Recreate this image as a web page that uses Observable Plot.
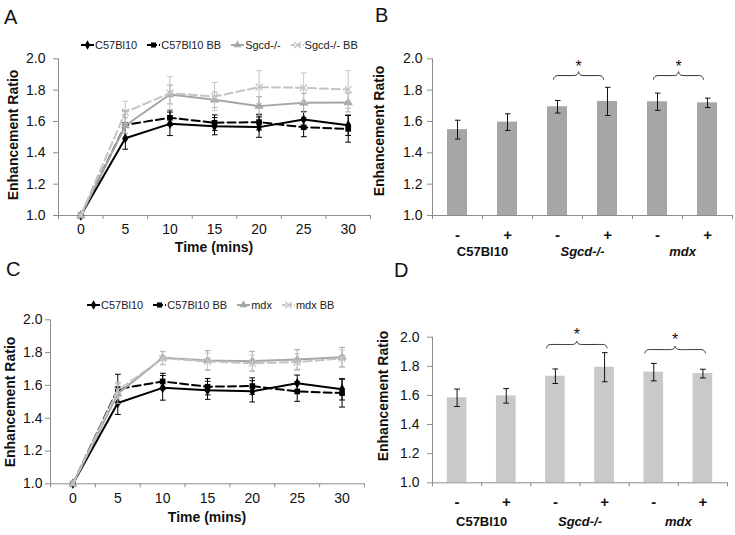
<!DOCTYPE html>
<html><head><meta charset="utf-8">
<script src="https://cdn.jsdelivr.net/npm/d3@7"></script>
<script src="https://cdn.jsdelivr.net/npm/@observablehq/plot@0.6"></script>
<style>
body{margin:0;background:#fff;font-family:"Liberation Sans",Arial,sans-serif;}
#page{position:relative;width:735px;height:535px;overflow:hidden;background:#fff;}
.panel{position:absolute;}
.letter{position:absolute;font-size:20px;line-height:20px;color:#111;}
.ytitle{position:absolute;font-size:14px;font-weight:bold;white-space:nowrap;transform:translate(-50%,-50%) rotate(-90deg);color:#111;line-height:16px;}
.xtitle{position:absolute;font-size:14px;font-weight:bold;white-space:nowrap;transform:translate(-50%,-50%);color:#111;line-height:16px;}
.legend{position:absolute;display:flex;align-items:center;font-size:11px;color:#222;white-space:nowrap;height:14px;}
.legend .item{display:flex;align-items:center;margin-right:10px;}
.legend svg{margin-right:1px;}
</style></head><body><div id="page"></div>
<script>
// ---------- data ----------
const times = [0, 5, 10, 15, 20, 25, 30];
const yTicks = [1.0, 1.2, 1.4, 1.6, 1.8, 2.0];

const c57      = [1.0, 1.493, 1.585, 1.570, 1.564, 1.613, 1.576];
const c57Err   = [0, 0.07, 0.075, 0.055, 0.065, 0.05, 0.065];
const c57bb    = [1.0, 1.578, 1.624, 1.592, 1.596, 1.563, 1.553];
const c57bbErr = [0, 0.09, 0.05, 0.05, 0.05, 0.06, 0.085];
const sgcd     = [1.0, 1.574, 1.772, 1.738, 1.698, 1.719, 1.721];
const sgcdErr  = [0, 0.05, 0.06, 0.05, 0.06, 0.06, 0.06];
const sgcdbb   = [1.0, 1.659, 1.781, 1.759, 1.819, 1.815, 1.804];
const sgcdbbErr= [0, 0.07, 0.105, 0.09, 0.105, 0.095, 0.12];
const mdx      = [1.0, 1.549, 1.768, 1.752, 1.748, 1.758, 1.772];
const mdxErr   = [0, 0.06, 0.04, 0.06, 0.06, 0.06, 0.06];
const mdxbb    = [1.0, 1.569, 1.765, 1.746, 1.735, 1.742, 1.765];
const mdxbbErr = [0, 0.05, 0.04, 0.05, 0.05, 0.05, 0.05];

const signs  = ["-", "+", "-", "+", "-", "+"];
const groups = ["C57Bl10", "Sgcd-/-", "mdx"];
const barsB    = [1.548, 1.596, 1.694, 1.728, 1.726, 1.719];
const barsBErr = [0.06, 0.053, 0.04, 0.09, 0.055, 0.03];
const barsD    = [1.584, 1.597, 1.732, 1.794, 1.760, 1.750];
const barsDErr = [0.06, 0.05, 0.05, 0.10, 0.06, 0.03];
const sigPairs = [2, 4];              // first bar of each significant pair
const braceB = [1.893, 1.893];        // brace level per pair (panel B)
const braceD = [1.950, 1.915];        // brace level per pair (panel D)

// ---------- style ----------
const axisColor = "#8c8c8c";
const textColor = "#111";
const font = "'Liberation Sans', Arial, sans-serif";
const page = document.getElementById("page");

function place(el, left, top) {
  el.style.position = "absolute"; el.style.left = left + "px"; el.style.top = top + "px";
  page.appendChild(el); return el;
}
function html(cls, text, left, top) {
  const d = document.createElement("div"); d.className = cls; d.textContent = text;
  return place(d, left, top);
}

const seriesA = [
  {name: "C57Bl10",    values: c57,    errors: c57Err,    color: "#000",    dash: null,  symbol: "diamond",  r: 3.2},
  {name: "C57Bl10 BB", values: c57bb,  errors: c57bbErr,  color: "#000",    dash: "8,4", symbol: "square",   r: 3.2},
  {name: "Sgcd-/-",    values: sgcd,   errors: sgcdErr,   color: "#a6a6a6", dash: null,  symbol: "triangle", r: 3.4},
  {name: "Sgcd-/- BB", values: sgcdbb, errors: sgcdbbErr, color: "#c4c4c4", dash: "8,4", symbol: "times",    r: 3.2}
];
const seriesC = [
  seriesA[0], seriesA[1],
  {name: "mdx",    values: mdx,   errors: mdxErr,   color: "#a6a6a6", dash: null,  symbol: "triangle", r: 3.4},
  {name: "mdx BB", values: mdxbb, errors: mdxbbErr, color: "#c4c4c4", dash: "8,4", symbol: "times",    r: 3.2}
];

function lineChart(series, o) {
  const bounds = d3.range(times.length + 1).map(i => times[0] - 2.5 + 5 * i);
  const marks = [
    Plot.ruleX([bounds[0]], {stroke: axisColor}),
    Plot.ruleY([1], {stroke: axisColor}),
    Plot.axisY({ticks: yTicks, tickFormat: d3.format(".1f"), tickSize: 5, tickPadding: o.yPad,
      stroke: axisColor, fill: textColor, fontSize: 14, label: null}),
    Plot.axisX({ticks: bounds, tickFormat: () => "", tickSize: 4, stroke: axisColor, label: null}),
    Plot.axisX({ticks: times, tickSize: 0, tickPadding: o.xPad, fill: textColor, fontSize: 14, label: null})
  ];
  for (const s of series) {
    const rows = times.map((t, i) => ({t, v: s.values[i], e: s.errors[i]}));
    marks.push(Plot.link(rows.filter(d => d.e > 0), {x1: "t", x2: "t", y1: d => d.v - d.e, y2: d => d.v + d.e,
      stroke: s.color, strokeWidth: 1, markerStart: "tick", markerEnd: "tick"}));
    marks.push(Plot.line(rows, {x: "t", y: "v", stroke: s.color, strokeWidth: 2, strokeDasharray: s.dash}));
    const filled = s.symbol !== "times";
    marks.push(Plot.dot(rows, {x: "t", y: "v", symbol: () => s.symbol, r: s.r,
      fill: filled ? s.color : "none", stroke: s.color, strokeWidth: filled ? 0 : 1.3}));
  }
  const svg = Plot.plot({
    width: o.width, height: o.height,
    marginLeft: o.mL, marginRight: o.mR, marginTop: o.mT, marginBottom: o.mB,
    x: {type: "linear", domain: [bounds[0], bounds[bounds.length - 1]], axis: null},
    y: {domain: [1, 2], axis: null},
    symbol: {type: "identity"},
    style: {fontFamily: font, fontSize: "14px", background: "transparent", overflow: "visible", color: textColor},
    marks
  });
  const wrap = document.createElement("div"); wrap.className = "panel lines"; wrap.appendChild(svg);
  place(wrap, o.left, o.top);
  return svg;
}

function barChart(values, errors, levels, o) {
  const rows = values.map((v, i) => ({i, v, e: errors[i]}));
  const n = values.length;
  const bounds = d3.range(n + 1).map(i => i - 0.5);
  const braces = sigPairs.map((a, k) => ({a: a + o.padL, b: a + 1 + o.padR, y0: levels[k], k}));
  const h = o.amp;
  const bracePts = braces.flatMap(({a, b, y0, k}) => {
    const m = (a + b) / 2;
    return [
      [a, y0 - h], [a + 0.015, y0 - 0.45 * h], [a + 0.05, y0 - 0.08 * h], [a + 0.11, y0],
      [m - 0.11, y0], [m - 0.045, y0 + 0.12 * h], [m - 0.012, y0 + 0.55 * h], [m, y0 + h],
      [m + 0.012, y0 + 0.55 * h], [m + 0.045, y0 + 0.12 * h], [m + 0.11, y0],
      [b - 0.11, y0], [b - 0.05, y0 - 0.08 * h], [b - 0.015, y0 - 0.45 * h], [b, y0 - h]
    ].map(([x, y]) => ({x, y, k}));
  });
  const groupRows = groups.map((g, k) => ({g, x: 2 * k + 0.5}));
  const marks = [
    Plot.rect(rows, {x1: d => d.i - 0.2, x2: d => d.i + 0.2, y1: 1, y2: "v", fill: o.fill}),
    Plot.ruleX([bounds[0]], {stroke: axisColor}),
    Plot.ruleY([1], {stroke: axisColor}),
    Plot.axisY({ticks: yTicks, tickFormat: d3.format(".1f"), tickSize: 5, tickPadding: o.yPad,
      stroke: axisColor, fill: textColor, fontSize: 14, label: null}),
    Plot.axisX({ticks: bounds, tickFormat: () => "", tickSize: 4, stroke: axisColor, label: null}),
    Plot.axisX({ticks: d3.range(n), tickFormat: i => signs[i], tickSize: 0, tickPadding: o.sPad,
      fill: textColor, fontSize: 15, fontWeight: "bold", label: null}),
    Plot.link(rows, {x1: "i", x2: "i", y1: d => d.v - d.e, y2: d => d.v + d.e,
      stroke: "#111", strokeWidth: 1, markerStart: "tick", markerEnd: "tick"}),
    Plot.text(groupRows.filter(d => d.g === "C57Bl10"), {x: "x", frameAnchor: "bottom", text: "g", dy: o.gDy,
      fontWeight: "bold", fontSize: 13, fill: textColor}),
    Plot.text(groupRows.filter(d => d.g !== "C57Bl10"), {x: "x", frameAnchor: "bottom", text: "g", dy: o.gDy,
      fontWeight: "bold", fontStyle: "italic", fontSize: 13, fill: textColor}),
    Plot.line(bracePts, {x: "x", y: "y", z: "k", curve: "catmull-rom", stroke: "#333", strokeWidth: 1}),
    Plot.text(braces, {x: d => (d.a + d.b) / 2, y: d => d.y0 + h, text: () => "*", dy: o.starDy,
      fontSize: 16, fill: textColor})
  ];
  const svg = Plot.plot({
    width: o.width, height: o.height,
    marginLeft: o.mL, marginRight: o.mR, marginTop: o.mT, marginBottom: o.mB,
    x: {type: "linear", domain: [bounds[0], bounds[n]], axis: null},
    y: {domain: [1, 2], axis: null},
    style: {fontFamily: font, fontSize: "14px", background: "transparent", overflow: "visible", color: textColor},
    marks
  });
  const wrap = document.createElement("div"); wrap.className = "panel bars"; wrap.appendChild(svg);
  place(wrap, o.left, o.top);
  return svg;
}

function legend(series, left, centerY) {
  const div = document.createElement("div"); div.className = "legend";
  for (const s of series) {
    const item = document.createElement("div"); item.className = "item";
    const sw = d3.create("svg").attr("width", 13).attr("height", 10);
    sw.append("line").attr("x1", 0).attr("x2", 13).attr("y1", 5).attr("y2", 5)
      .attr("stroke", s.color).attr("stroke-width", 2).attr("stroke-dasharray", s.dash ? "4,2" : null);
    const symMap = {diamond: d3.symbolDiamond, square: d3.symbolSquare, triangle: d3.symbolTriangle, times: d3.symbolTimes};
    const filled = s.symbol !== "times";
    sw.append("path").attr("transform", "translate(6.5,5)")
      .attr("d", d3.symbol(symMap[s.symbol], filled ? 26 : 30)())
      .attr("fill", filled ? s.color : "none").attr("stroke", filled ? "none" : s.color).attr("stroke-width", 1.2);
    item.appendChild(sw.node());
    const t = document.createElement("span"); t.textContent = s.name; item.appendChild(t);
    div.appendChild(item);
  }
  place(div, left, centerY - 7);
}

// ---------- panels ----------
lineChart(seriesA, {left: 0, top: 0, width: 372, height: 262, mL: 58, mR: 2, mT: 58.3, mB: 47, yPad: 8, xPad: 9});
lineChart(seriesC, {left: 0, top: 270, width: 366, height: 263, mL: 50, mR: 2, mT: 49.3, mB: 49.7, yPad: 3, xPad: 9});
barChart(barsB, barsBErr, braceB, {left: 370, top: 0, width: 365, height: 265, mL: 62, mR: 3, mT: 58.3, mB: 50,
  fill: "#a6a6a6", yPad: 5, sPad: 14, gDy: 40, padL: -0.08, padR: -0.08, amp: 0.025, starDy: -5});
barChart(barsD, barsDErr, braceD, {left: 370, top: 270, width: 365, height: 265, mL: 62, mR: 8, mT: 66.7, mB: 52.7,
  fill: "#c9c9c9", yPad: 8, sPad: 14, gDy: 42.7, padL: -0.18, padR: 0.05, amp: 0.024, starDy: -6});

legend(seriesA, 81, 45);
legend(seriesC, 87, 305);

html("letter", "A", 4, 7);
html("letter", "B", 375, 5);
html("letter", "C", 6, 259);
html("letter", "D", 394, 260);

html("ytitle", "Enhancement Ratio", 13, 135);
html("ytitle", "Enhancement Ratio", 379, 131);
html("ytitle", "Enhancement Ratio", 10, 402);
html("ytitle", "Enhancement Ratio", 383, 396);
html("xtitle", "Time (mins)", 214, 247);
html("xtitle", "Time (mins)", 207, 517);
</script>
</body></html>
